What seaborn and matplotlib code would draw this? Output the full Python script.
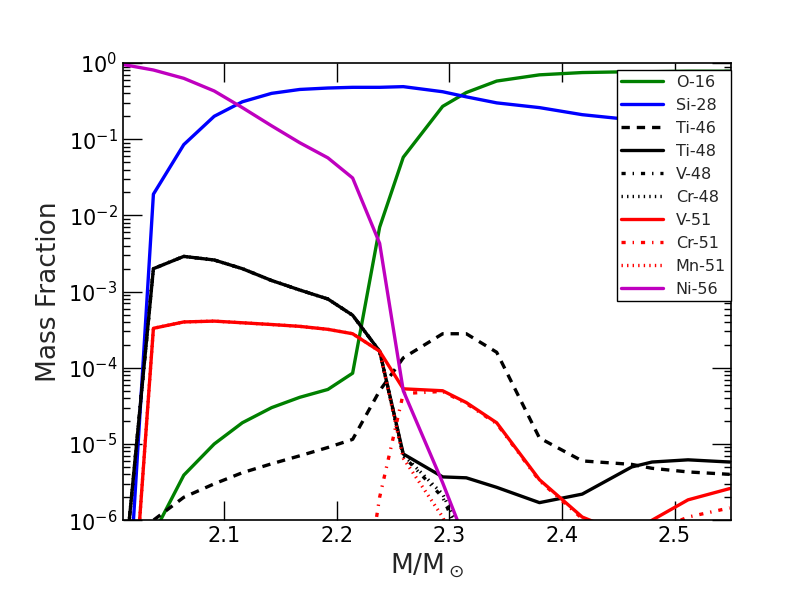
import matplotlib
matplotlib.use('Agg')
import matplotlib.pyplot as plt
import seaborn as sns
import numpy as np

# enclosed mass coordinate (solar masses)
mass = [2.011, 2.037, 2.064, 2.091, 2.116, 2.142, 2.167, 2.192, 2.214, 2.238,
        2.259, 2.294, 2.315, 2.342, 2.380, 2.418, 2.462, 2.480, 2.512, 2.549]

o16 = [1e-7, 6.6e-7, 3.9e-6, 1.0e-5, 1.9e-5, 3.0e-5, 4.1e-5, 5.2e-5, 8.5e-5, 7.0e-3,
       5.8e-2, 0.27, 0.41, 0.58, 0.70, 0.75, 0.77, 0.77, 0.78, 0.78]
si28 = [1e-8, 0.019, 0.085, 0.20, 0.31, 0.40, 0.45, 0.47, 0.48, 0.48,
        0.49, 0.42, 0.36, 0.30, 0.26, 0.21, 0.18, 0.16, 0.14, 0.125]
ti46 = [2e-7, 1.0e-6, 2.0e-6, 3.0e-6, 4.2e-6, 5.5e-6, 7.0e-6, 9.0e-6, 1.15e-5, 5.0e-5,
        1.35e-4, 2.8e-4, 2.8e-4, 1.6e-4, 1.2e-5, 6.0e-6, 5.4e-6, 4.8e-6, 4.3e-6, 4.0e-6]
ti48 = [2e-7, 2.0e-3, 2.9e-3, 2.6e-3, 2.0e-3, 1.4e-3, 1.05e-3, 8.0e-4, 4.9e-4, 1.65e-4,
        7.4e-6, 3.7e-6, 3.6e-6, 2.7e-6, 1.7e-6, 2.2e-6, 5.0e-6, 5.8e-6, 6.2e-6, 5.8e-6]
v48 = [2e-7, 2.0e-3, 2.9e-3, 2.6e-3, 2.0e-3, 1.4e-3, 1.05e-3, 8.0e-4, 4.9e-4, 1.65e-4,
       7.0e-6, 2.0e-6, 4e-7, 5e-8, 1e-8, 1e-8, 1e-8, 1e-8, 1e-8, 1e-8]
cr48 = [2e-7, 2.0e-3, 2.9e-3, 2.6e-3, 2.0e-3, 1.4e-3, 1.05e-3, 8.0e-4, 4.9e-4, 1.65e-4,
        7.2e-6, 2.2e-6, 5e-7, 5e-8, 1e-8, 1e-8, 1e-8, 1e-8, 1e-8, 1e-8]
v51 = [1.5e-9, 3.3e-4, 4.0e-4, 4.1e-4, 3.9e-4, 3.7e-4, 3.5e-4, 3.2e-4, 2.8e-4, 1.65e-4,
       5.3e-5, 5.0e-5, 3.5e-5, 1.9e-5, 3.4e-6, 1.1e-6, 6e-7, 1.0e-6, 1.85e-6, 2.6e-6]
cr51 = [1e-10, 1e-10, 1e-10, 1e-10, 1e-10, 1e-10, 1e-10, 1e-10, 1e-8, 2.0e-6,
        4.6e-5, 4.9e-5, 3.4e-5, 1.85e-5, 3.3e-6, 1.05e-6, 5e-7, 7e-7, 1.1e-6, 1.45e-6]
mn51 = [1.5e-9, 3.3e-4, 4.0e-4, 4.1e-4, 3.9e-4, 3.7e-4, 3.5e-4, 3.2e-4, 2.8e-4, 1.65e-4,
        6.5e-6, 1.1e-6, 2e-7, 1e-8, 1e-9, 1e-9, 1e-9, 1e-9, 1e-9, 1e-9]
ni56 = [0.95, 0.81, 0.63, 0.43, 0.26, 0.15, 0.09, 0.057, 0.031, 4.3e-3,
        5.0e-5, 3.1e-6, 5.0e-7, 1e-8, 1e-9, 1e-9, 1e-9, 1e-9, 1e-9, 1e-9]

species = ['O-16', 'Si-28', 'Ti-46', 'Ti-48', 'V-48', 'Cr-48', 'V-51', 'Cr-51', 'Mn-51', 'Ni-56']
values = [o16, si28, ti46, ti48, v48, cr48, v51, cr51, mn51, ni56]
colors = ['g', 'b', 'k', 'k', 'k', 'k', 'r', 'r', 'r', 'm']
styles = ['-', '-', (0, (6, 5)), '-', (0, (3, 5, 1, 5)), (0, (1, 3)),
          '-', (0, (3, 5, 1, 5)), (0, (1, 3)), '-']

sns.set_style("white")
plt.rcParams['font.family'] = ['DejaVu Sans']
plt.rcParams['mathtext.fontset'] = 'dejavusans'
plt.rcParams['lines.scale_dashes'] = False

fig = plt.figure(figsize=(8.12, 6.12), dpi=100)
ax = fig.add_axes([0.1515, 0.150, 0.7485, 0.747])

for name, vals, c, ls in zip(species, values, colors, styles):
    sns.lineplot(x=mass, y=vals, color=c, linestyle=ls, linewidth=2.4,
                 label=name, ax=ax, sort=False)

ax.set_yscale('log')
ax.set_xlim(2.01, 2.55)
ax.set_ylim(1e-6, 1)
ax.set_xticks([2.1, 2.2, 2.3, 2.4, 2.5])
ax.set_xlabel(r'M/M$_\odot$', fontsize=19)
ax.set_ylabel('Mass Fraction', fontsize=19)

ax.tick_params(which='both', direction='in', top=True, right=True,
               bottom=True, left=True, colors='k', labelsize=15, pad=4)
ax.tick_params(which='major', length=14, width=1)
ax.tick_params(which='minor', length=5, width=1)
for sp in ax.spines.values():
    sp.set_color('k')
    sp.set_linewidth(1.2)

leg = ax.legend(loc='upper right', bbox_to_anchor=(1.0, 0.985), borderaxespad=0,
                fontsize=11.5, handlelength=2.6, handletextpad=0.8,
                labelspacing=0.5, borderpad=0.3, fancybox=False,
                edgecolor='k', framealpha=1)
leg.get_frame().set_linewidth(1.0)

fig.savefig('out.png', dpi=100)
